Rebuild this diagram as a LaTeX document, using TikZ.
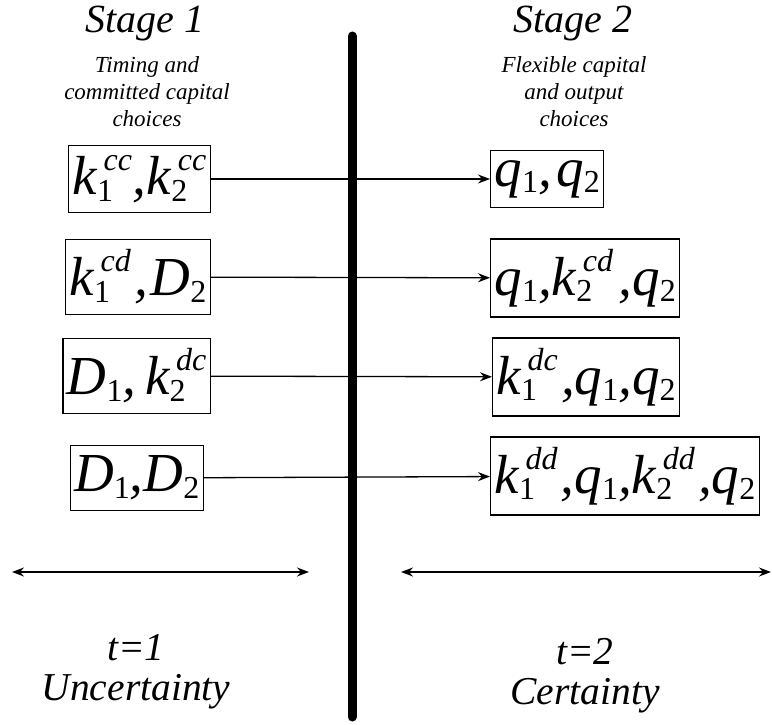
\documentclass[tikz,border=0pt]{standalone}
\usepackage{fontspec}
\setmainfont{Liberation Serif}
\usetikzlibrary{arrows.meta}

% script size and the stacked indices of the box labels
\newcommand{\scsize}{\fontsize{32}{32}\selectfont}
\newcommand{\lowsc}[1]{\raisebox{-0.12em}{\scsize\upshape #1}}
\newcommand{\twosc}[2]{\makebox[0pt][l]{\lowsc{#1}}\hspace{0.12em}\raisebox{0.44em}{\scsize\itshape #2}}
\newcommand{\kv}[2]{k\twosc{#1}{#2}}
\newcommand{\qv}[1]{q\lowsc{#1}}
\newcommand{\Dv}[1]{D\lowsc{#1}}

\tikzset{
  choice/.style={draw, line width=1.2pt, inner xsep=4pt, inner ysep=10pt,
    font=\fontsize{55}{60}\selectfont\itshape},
  title/.style={font=\fontsize{40}{42}\selectfont\itshape},
  note/.style={font=\fontsize{23}{27}\selectfont\itshape, align=center},
  period/.style={font=\fontsize{39.5}{40}\selectfont\itshape, align=center}
}

\begin{document}
\begin{tikzpicture}[x=1pt, y=-1pt, >={Stealth[length=12pt,width=9pt,inset=4pt]}]
        \useasboundingbox (0,0) rectangle (772,725);

        % Stage headings
        \node[title] (st1) at (145,24) {Stage 1};
        \node[note] (n1) at (147,92) {Timing and\\committed capital\\choices};
        \node[title] (st2) at (573,24) {Stage 2};
        \node[note] (n2) at (574,92) {Flexible capital\\and output\\choices};

        % Separation between the two stages
        \coordinate (bartop) at (352,36);
        \coordinate (barbot) at (352,717);
        \draw[line width=9pt, line cap=round] (bartop) -- (barbot);

        % Stage 1 choices
        \node[choice, anchor=east] (l1) at (211,179) {\kv{1}{cc},\hspace{0.02em}\kv{2}{cc}};
        \node[choice, anchor=east] (l2) at (211,277) {\kv{1}{cd}\hspace{0.06em},\hspace{0.05em}\Dv{2}};
        \node[choice, anchor=east] (l3) at (211,376) {\Dv{1},\hspace{0.16em}\kv{2}{dc}};
        \node[choice, anchor=east] (l4) at (204,478) {\Dv{1},\Dv{2}};

        % Stage 2 choices
        \node[choice, anchor=west] (r1) at (490,179) {\qv{1},\hspace{0.08em}\qv{2}};
        \node[choice, anchor=west] (r2) at (490,278) {\qv{1},\kv{2}{cd}\hspace{0.1em},\qv{2}};
        \node[choice, anchor=west] (r3) at (492,377) {\kv{1}{dc}\hspace{0.06em},\qv{1},\qv{2}};
        \node[choice, anchor=west] (r4) at (490,476) {\kv{1}{dd}\hspace{0.06em},\qv{1},\kv{2}{dd}\hspace{0.06em},\qv{2}};

        \draw[line width=1.3pt,->] (l1) -- (r1);
        \draw[line width=1.3pt,->] (l2) -- (r2);
        \draw[line width=1.3pt,->] (l3) -- (r3);
        \draw[line width=1.3pt,->] (l4) -- (r4);

        % Time periods
        \coordinate (a1) at (12,572);
        \coordinate (b1) at (309,572);
        \coordinate (a2) at (401,572);
        \coordinate (b2) at (771,572);
        \draw[line width=1.6pt,<->] (a1) -- (b1);
        \draw[line width=1.6pt,<->] (a2) -- (b2);

        \node[period] (t1) at (136,672) {t=1\\Uncertainty};
        \node[period] (t2) at (585,676) {t=2\\Certainty};
    \end{tikzpicture}
\end{document}
